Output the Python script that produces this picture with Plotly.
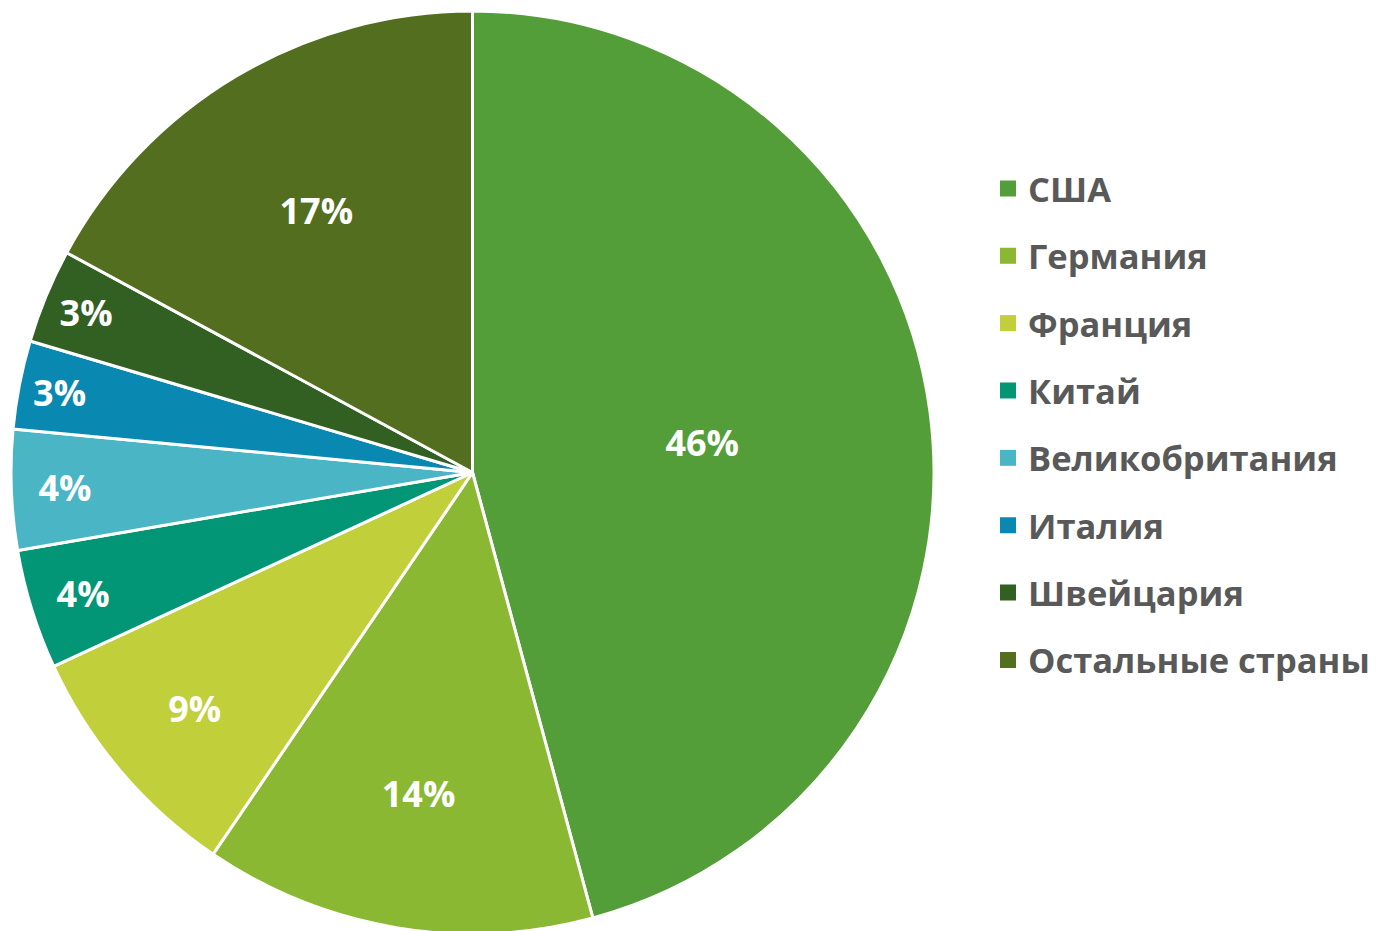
import plotly.graph_objects as go

labels = ["США", "Германия", "Франция", "Китай", "Великобритания", "Италия", "Швейцария", "Остальные страны"]
values = [45.8, 13.7, 8.6, 4.2, 4.2, 3.1, 3.3, 17.1]
colors = ["#549E39", "#8AB833", "#C0CF3A", "#029676", "#4AB5C4", "#0989B1", "#325F22", "#536E1F"]

FONT = "Open Sans"

fig = go.Figure()
fig.add_trace(go.Pie(
    labels=labels,
    values=values,
    sort=False,
    direction="clockwise",
    rotation=0,
    marker=dict(colors=colors, line=dict(color="white", width=3)),
    texttemplate="%{percent:.0%}",
    textposition="inside",
    insidetextorientation="horizontal",
    textfont=dict(family=FONT, size=36, color="white", weight="bold"),
    showlegend=False,
    hoverinfo="label+percent",
    domain=dict(x=[0, 929 / 1381], y=[0, 1]),
))

# legend entries (one group per country so spacing can be controlled)
for i, (lab, col) in enumerate(zip(labels, colors)):
    fig.add_trace(go.Scatter(
        x=[None], y=[None], mode="markers", name=lab,
        marker=dict(symbol="square", size=16, color=col),
        legendgroup=f"g{i}", showlegend=True, hoverinfo="skip",
    ))

fig.update_layout(
    width=1381, height=931,
    margin=dict(l=0, r=0, t=3, b=5),
    paper_bgcolor="white", plot_bgcolor="white",
    xaxis=dict(visible=False), yaxis=dict(visible=False),
    uniformtext=dict(minsize=36, mode="show"),
    legend=dict(
        x=980 / 1381, xanchor="left", y=0.552, yanchor="middle",
        font=dict(family=FONT, size=34.5, color="#595959", weight="bold"),
        tracegroupgap=19.5, traceorder="grouped",
        bgcolor="rgba(0,0,0,0)",
    ),
)

fig.write_html("out.html")
